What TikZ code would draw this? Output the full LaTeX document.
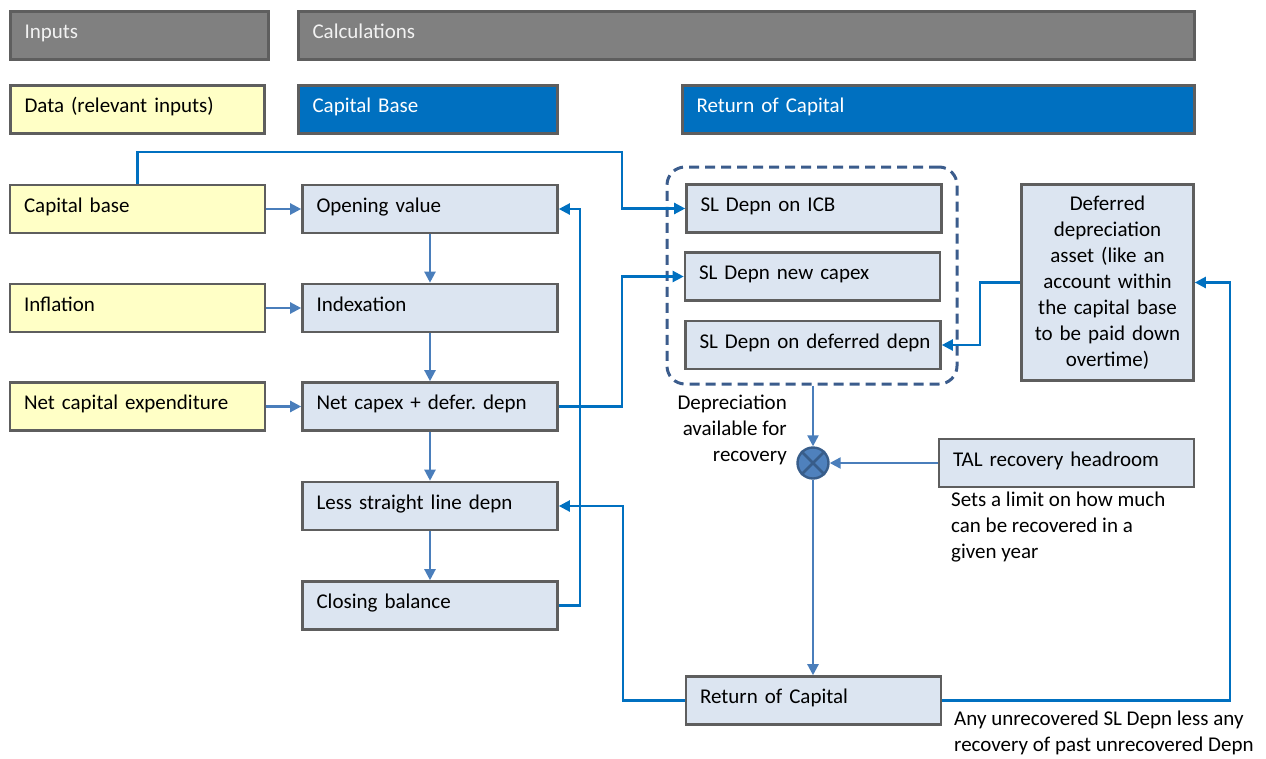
\documentclass[tikz,border=0pt]{standalone}
\usepackage{fontspec}
\setmainfont{Carlito}
\usetikzlibrary{arrows.meta}
\definecolor{bxborder}{HTML}{5E5E5E}
\definecolor{hdrgray}{HTML}{808080}
\definecolor{hdrblue}{HTML}{0070C0}
\definecolor{yellowfill}{HTML}{FFFFC6}
\definecolor{bluefill}{HTML}{DCE5F1}
\definecolor{bright}{HTML}{0070C0}
\definecolor{soft}{HTML}{4A7EBB}
\definecolor{dashcol}{HTML}{3B5C8C}
\definecolor{circfill}{HTML}{4F81BD}
\definecolor{circline}{HTML}{385D8A}
\frenchspacing
\begin{document}
\begin{tikzpicture}[x=1pt,y=-1pt,
  every node/.style={font=\fontsize{21}{26}\selectfont\frenchspacing},
  base/.style={draw=bxborder, line width=2.6pt, inner xsep=14pt, inner ysep=0pt, align=left, minimum height=48pt},
  oneline/.style={text height=13pt, text depth=6.5pt},
  stdbox/.style={base, oneline, minimum width=255pt, text width=227pt},
  ybox/.style={stdbox, fill=yellowfill},
  bbox/.style={stdbox, fill=bluefill},
  hgray/.style={base, oneline, fill=hdrgray, text=white!95!black},
  hblue/.style={base, oneline, fill=hdrblue, text=white},
  arr/.style={-{Triangle[length=11pt,width=11pt]}, line width=2.3pt},
  brightarr/.style={arr, draw=bright},
  softarr/.style={arr, draw=soft},
  note/.style={inner sep=0pt, align=left}
]
\useasboundingbox (0,0) rectangle (1266,758);

% headers
\node[hgray, minimum width=258pt, text width=230pt] (hin) at (139.5,35.5) {Inputs};
\node[hgray, minimum width=896pt, text width=868pt] (hcalc) at (746.5,35.5) {Calculations};
\node[base, oneline, fill=yellowfill, minimum width=254pt, text width=226pt] (hdata) at (137.5,109.5) {Data (relevant inputs)};
\node[hblue, minimum width=259pt, text width=231pt] (hcb) at (428,109.5) {Capital Base};
\node[hblue, minimum width=512pt, text width=484pt] (hroc) at (938.5,109.5) {Return of Capital};

% inputs
\node[ybox] (cb) at (137.5,209) {Capital base};
\node[ybox] (inf) at (137.5,308) {Inflation};
\node[ybox] (nce) at (137.5,406.5) {Net capital expenditure};

% capital base column
\node[bbox] (op) at (430,209) {Opening value};
\node[bbox] (ix) at (430,308) {Indexation};
\node[bbox] (nc) at (430,406.5) {Net capex + defer. depn};
\node[bbox] (ls) at (430,506) {Less straight line depn};
\node[bbox] (cl) at (430,605.5) {Closing balance};

% return of capital
\node[draw=dashcol, line width=3pt, dash pattern=on 10pt off 6pt, rounded corners=18pt,
      minimum width=290pt, minimum height=217pt] (grp) at (812,275.5) {};
\node[bbox] (icb) at (814,208.5) {SL Depn on ICB};
\node[bbox] (nx) at (812.5,276.5) {SL Depn new capex};
\node[bbox] (sld) at (813,345) {\mbox{SL Depn on deferred depn}};
\node[base, fill=bluefill, minimum width=172pt, minimum height=196pt, text width=170pt, inner xsep=1pt, align=center] (def) at (1107.5,282.5)
  {Deferred\\depreciation\\asset (like an\\account within\\the capital base\\to be paid down\\overtime)};
\node[bbox] (tal) at (1066.5,463) {TAL recovery headroom};
\node[bbox] (roc) at (813.5,700.5) {Return of Capital};

\node[circle, draw=circline, fill=circfill, line width=2.4pt, minimum size=31pt, inner sep=0pt] (x) at (813,463) {};
\draw[circline, line width=2.8pt] (x.north west) -- (x.south east) (x.north east) -- (x.south west);

% notes
\node[note, align=right, anchor=east] (n1) at (787,429.5) {Depreciation\\available for\\recovery};
\node[note, anchor=west] (n2) at (951,527) {Sets a limit on how much\\can be recovered in a\\given year};
\node[note, anchor=west] (n3) at (954,733) {Any unrecovered SL Depn less any\\recovery of past unrecovered Depn};

% soft connectors
\draw[softarr] (cb.east) -- (op.west);
\draw[softarr] (inf.east) -- (ix.west);
\draw[softarr] (nce.east) -- (nc.west);
\draw[softarr] (op.south) -- (ix.north);
\draw[softarr] (ix.south) -- (nc.north);
\draw[softarr] (nc.south) -- (ls.north);
\draw[softarr] (ls.south) -- (cl.north);
\draw[softarr] (x.north |- grp.south) -- (x.north);
\draw[softarr] (tal.west) -- (x.east);
\draw[softarr] (x.south) -- (x.south |- roc.north);

% bright connectors
\draw[brightarr] (cb.north) |- (622,152) |- (icb.west);
\draw[brightarr] (nc.east) -| ([xshift=-62pt]nx.west) -- (nx.west);
\draw[brightarr] (cl.east) -| ([xshift=21pt]op.east) -- (op.east);
\draw[brightarr] (roc.west) -| ([xshift=64pt]ls.east) -- (ls.east);
\draw[brightarr] (roc.east) -| ([xshift=35pt]def.east) -- (def.east);
\draw[brightarr] (def.west) -- ++(-40,0) |- (sld.east);
\end{tikzpicture}
\end{document}
